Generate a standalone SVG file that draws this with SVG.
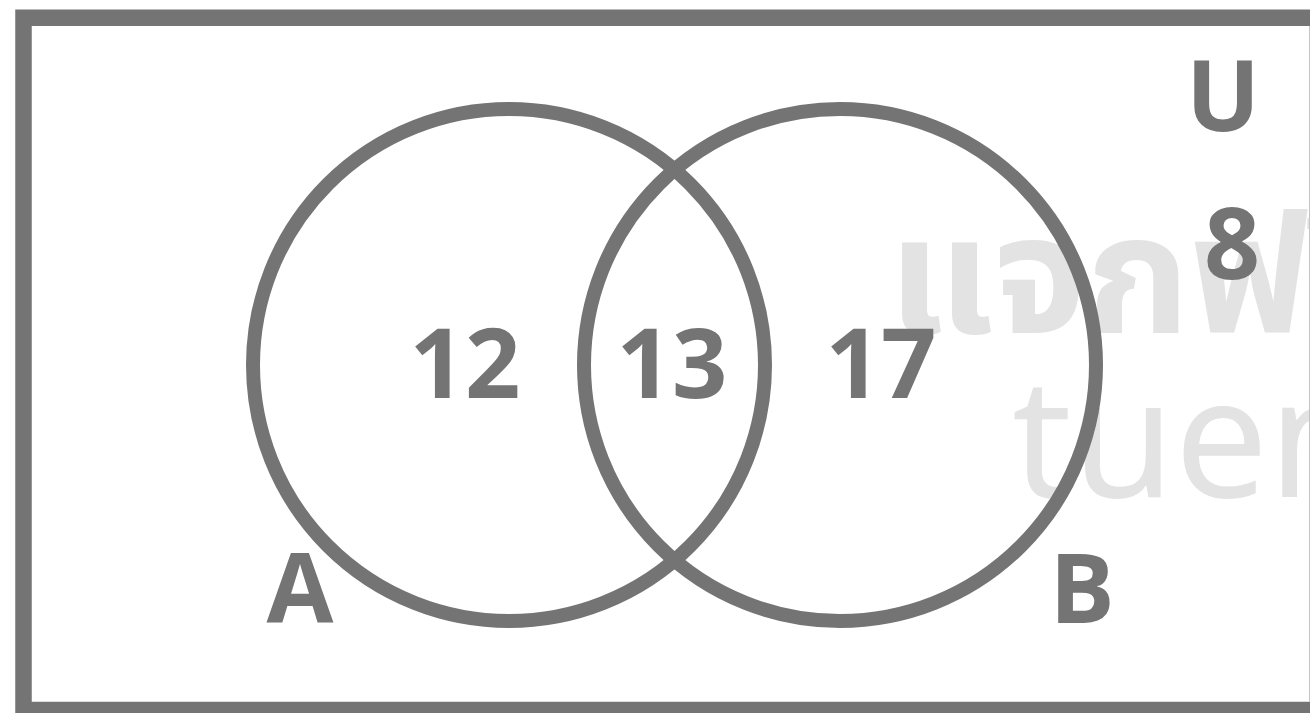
<svg xmlns="http://www.w3.org/2000/svg" width="1310" height="713" viewBox="0 0 1310 713">
<style>
.wm{fill:#e3e3e3;font-family:"Noto Sans Thai","Open Sans","Noto Sans",sans-serif;font-size:166px}
.lbl{fill:#747474;font-family:"Open Sans","Noto Sans",sans-serif;font-weight:700;text-anchor:middle}
.num{font-size:97px}
.set{fill:none;stroke:#747474;stroke-width:14}
</style>
<rect width="1310" height="713" fill="#ffffff"/>
<g id="watermark">
<text class="wm" x="888" y="333" font-weight="700" font-size="172">แจกฟรี</text>
<text class="wm" x="1012" y="497">tuen</text>
</g>
<g id="universe">
<rect x="23.5" y="17.75" width="1310" height="692.25" fill="none" stroke="#747474" stroke-width="16.5"/>
<line x1="1309.5" y1="26" x2="1309.5" y2="702" stroke="#c4c4c4" stroke-width="1"/>
<text class="lbl" x="1223" y="131" font-size="98">U</text>
<text class="lbl" x="1232" y="279" font-size="98">8</text>
</g>
<g id="setA">
<circle class="set" cx="509" cy="365" r="256"/>
<text class="lbl" x="300" y="623" font-size="97">A</text>
<text class="lbl num" x="465" y="398">12</text>
</g>
<g id="setB">
<circle class="set" cx="840" cy="365" r="256"/>
<text class="lbl" x="1082" y="623" font-size="97">B</text>
<text class="lbl num" x="881" y="398">17</text>
</g>
<g id="intersection">
<text class="lbl num" x="672" y="398">13</text>
</g>
</svg>
